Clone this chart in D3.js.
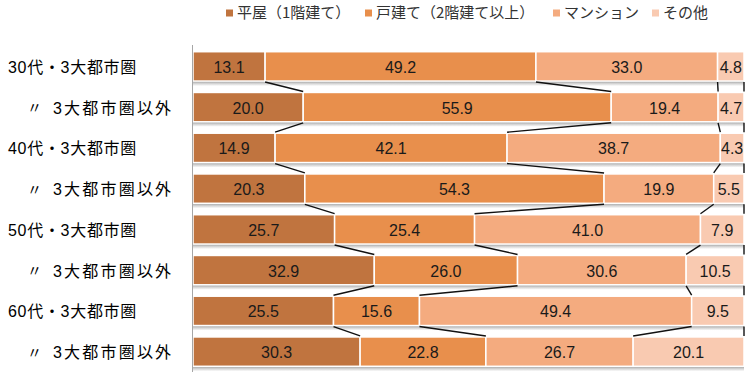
<!DOCTYPE html>
<html>
<head>
<meta charset="utf-8">
<script src="https://cdn.jsdelivr.net/npm/d3@7"></script>
<style>
  body { margin: 0; background: #fff; }
  text { font-family: "Noto Sans CJK JP", "Noto Sans", sans-serif; }
  .val { font-family: "Liberation Sans", Arial, sans-serif; }
  .rowlab { font-family: "Liberation Sans", "Noto Sans CJK JP", sans-serif; }
</style>
</head>
<body>
<div id="chart"></div>
<script>
// data
const rowLabels = ["30代・3大都市圏", "〃　3大都市圏以外", "40代・3大都市圏", "〃　3大都市圏以外",
  "50代・3大都市圏", "〃　3大都市圏以外", "60代・3大都市圏", "〃　3大都市圏以外"];
const seriesNames = ["平屋（1階建て）", "戸建て（2階建て以上）", "マンション", "その他"];
const hiraya = [13.1, 20.0, 14.9, 20.3, 25.7, 32.9, 25.5, 30.3];
const kodate = [49.2, 55.9, 42.1, 54.3, 25.4, 26.0, 15.6, 22.8];
const mansion = [33.0, 19.4, 38.7, 19.9, 41.0, 30.6, 49.4, 26.7];
const sonota = [4.8, 4.7, 4.3, 5.5, 7.9, 10.5, 9.5, 20.1];

const colors = ["#C0743F", "#E88F4C", "#F4AB7F", "#F9CAB1"];

const width = 753, height = 375;
const svg = d3.select("#chart").append("svg")
  .attr("width", width).attr("height", height);

// table built from arrays
const table = rowLabels.map((label, i) => {
  const vals = [hiraya[i], kodate[i], mansion[i], sonota[i]];
  const total = d3.sum(vals);
  let acc = 0;
  const segs = vals.map((v, k) => {
    const s = { key: k, value: v, x0: acc / total * 100, x1: (acc + v) / total * 100 };
    acc += v;
    return s;
  });
  return { label, i, segs };
});

const x = d3.scaleLinear().domain([0, 100]).range([193, 744]);
const y = d3.scaleBand().domain(d3.range(rowLabels.length)).range([46, 372])
  .paddingInner(0.28).paddingOuter(0.14);

// shadow gradient
const grad = svg.append("defs").append("linearGradient")
  .attr("id", "shadow").attr("x1", "0%").attr("x2", "0%").attr("y1", "0%").attr("y2", "100%");
grad.append("stop").attr("offset", "0%").attr("stop-color", "#9a9a9a");
grad.append("stop").attr("offset", "45%").attr("stop-color", "#cfcfcf");
grad.append("stop").attr("offset", "100%").attr("stop-color", "#ffffff");

// shadows under bars
svg.selectAll(".shadow").data(table).enter().append("rect")
  .attr("class", "shadow")
  .attr("x", x(0))
  .attr("y", d => y(d.i) + y.bandwidth())
  .attr("width", x(100) - x(0))
  .attr("height", 5)
  .attr("fill", "url(#shadow)");

// bars
const rows = svg.selectAll(".row").data(table).enter().append("g")
  .attr("class", "row")
  .attr("transform", d => `translate(0, ${y(d.i)})`);

rows.selectAll("rect").data(d => d.segs).enter().append("rect")
  .attr("x", d => x(d.x0))
  .attr("y", 0)
  .attr("width", d => x(d.x1) - x(d.x0))
  .attr("height", y.bandwidth())
  .attr("fill", d => colors[d.key])
  .attr("stroke", "#fff")
  .attr("stroke-width", 1.5);

rows.selectAll(".val").data(d => d.segs).enter().append("text")
  .attr("class", "val")
  .attr("x", d => (x(d.x0) + x(d.x1)) / 2)
  .attr("y", y.bandwidth() / 2 + 1)
  .attr("dy", "0.35em")
  .attr("text-anchor", "middle")
  .attr("font-size", 16)
  .attr("fill", "#1a1a1a")
  .text(d => d.value.toFixed(1));

// connector lines between adjacent bars
const links = [];
for (let i = 0; i < table.length - 1; i++) {
  for (let k = 0; k < 4; k++) {
    links.push({ i, xa: table[i].segs[k].x1, xb: table[i + 1].segs[k].x1 });
  }
}
svg.selectAll(".link").data(links).enter().append("line")
  .attr("class", "link")
  .attr("x1", d => x(d.xa))
  .attr("y1", d => y(d.i) + y.bandwidth() + 1)
  .attr("x2", d => x(d.xb))
  .attr("y2", d => y(d.i + 1) - 1)
  .attr("stroke", "#111")
  .attr("stroke-width", 1.4);

// category axis line
svg.append("line")
  .attr("x1", 192.5).attr("x2", 192.5)
  .attr("y1", 45).attr("y2", 372)
  .attr("stroke", "#a6a6a6").attr("stroke-width", 1);

// row labels
const lab = svg.selectAll(".lab").data(table).enter().append("g")
  .attr("class", "lab")
  .attr("transform", d => `translate(0, ${y(d.i) + y.bandwidth() / 2 + 1})`);
lab.each(function (d) {
  const g = d3.select(this);
  if (d.label.startsWith("〃")) {
    g.append("text").attr("class", "rowlab").attr("x", 27).attr("dy", "0.35em").attr("font-size", 15)
      .attr("fill", "#000").text("〃");
    g.append("text").attr("class", "rowlab").attr("x", 53).attr("dy", "0.35em").attr("font-size", 16)
      .attr("letter-spacing", 2.2)
      .attr("fill", "#000").text(d.label.replace("〃　", ""));
  } else {
    g.append("text").attr("class", "rowlab").attr("x", 8).attr("dy", "0.35em").attr("font-size", 16)
      .attr("letter-spacing", 0.7)
      .attr("fill", "#000").text(d.label);
  }
});

// legend
const legendX = [226, 365, 553, 652];
const legend = svg.selectAll(".leg").data(seriesNames).enter().append("g")
  .attr("class", "leg")
  .attr("transform", (d, i) => `translate(${legendX[i]}, 13)`);
legend.append("rect")
  .attr("x", 0).attr("y", -3.5).attr("width", 7).attr("height", 7)
  .attr("fill", (d, i) => colors[i]);
legend.append("text")
  .attr("x", 11).attr("dy", "0.35em")
  .attr("font-size", 15).attr("fill", "#333")
  .text(d => d);
</script>
</body>
</html>
